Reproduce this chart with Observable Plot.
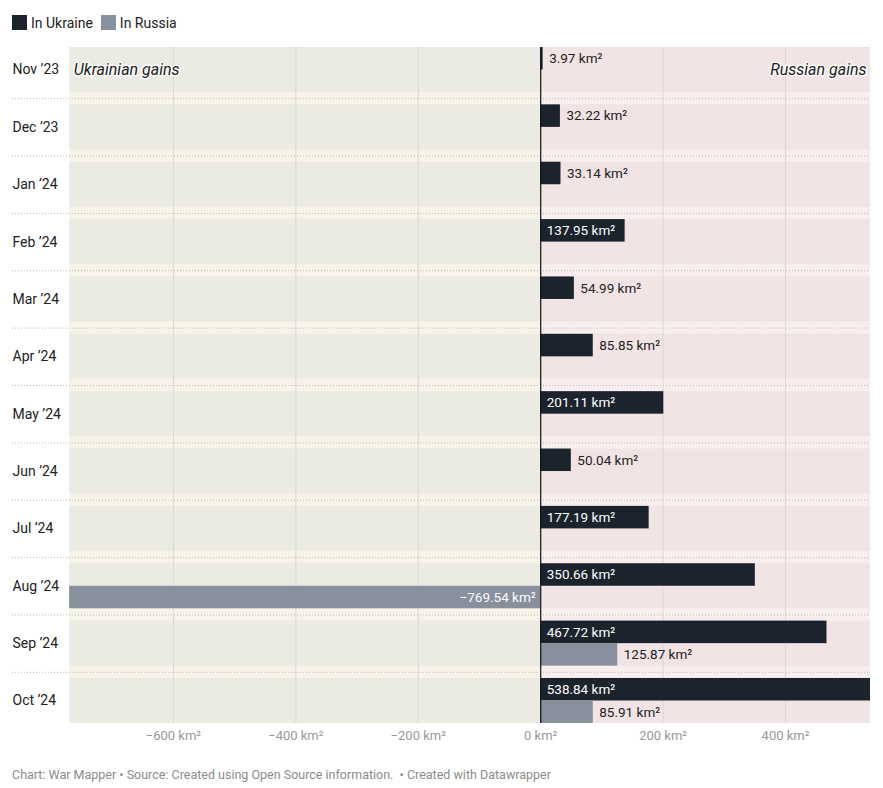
<!DOCTYPE html>
<html><head><meta charset="utf-8">
<script src="https://cdn.jsdelivr.net/npm/d3@7"></script>
<script src="https://cdn.jsdelivr.net/npm/@observablehq/plot@0.6"></script>
<style>
body{margin:0;background:#fff;font-family:Roboto,"Noto Sans",sans-serif;}
#legend{height:38px;box-sizing:border-box;padding:7px 0 0 12px;font-size:14px;color:#222;display:flex;align-items:center;}
#legend .item{display:inline-flex;align-items:center;margin-right:8px;}
#legend .sw{width:15px;height:15px;display:inline-block;margin-right:4px;}
#chart svg{display:block;}
#footer{box-sizing:border-box;padding:12px 0 0 12px;font-size:12.5px;color:#8c8c8c;line-height:15px;}
</style></head><body>
<div id="legend"></div>
<div id="chart"></div>
<div id="footer">Chart: War Mapper • Source: Created using Open Source information. &nbsp;• Created with Datawrapper</div>
<script>
const months = ["Nov ’23","Dec ’23","Jan ’24","Feb ’24","Mar ’24","Apr ’24","May ’24","Jun ’24","Jul ’24","Aug ’24","Sep ’24","Oct ’24"];
const inUkraine = [3.97, 32.22, 33.14, 137.95, 54.99, 85.85, 201.11, 50.04, 177.19, 350.66, 467.72, 538.84];
const inRussia = [null, null, null, null, null, null, null, null, null, -769.54, 125.87, 85.91];
const seriesNames = ["In Ukraine", "In Russia"];
const seriesColors = ["#1b232d", "#87909c"];
const tickValues = [-600, -400, -200, 0, 200, 400];
const gridValues = [-600, -400, -200, 200, 400];
const sideLabels = ["Ukrainian gains", "Russian gains"];

const xMin = d3.min(inRussia.filter(v => v != null));
const xMax = d3.max(inUkraine);
const fmt = v => (v < 0 ? "−" : "") + Math.abs(v).toFixed(2) + " km²";
const tickFmt = v => (v < 0 ? "−" : "") + Math.abs(v) + " km²";

// legend
const leg = document.getElementById("legend");
seriesNames.forEach((n, i) => {
  const it = document.createElement("span");
  it.className = "item";
  it.innerHTML = `<span class="sw" style="background:${seriesColors[i]}"></span>${n}`;
  leg.appendChild(it);
});

const rows = months.map((m, i) => ({month: m, ua: inUkraine[i], ru: inRussia[i]}));
const ruPos = rows.filter(d => d.ru != null && d.ru > 0);
const ruNeg = rows.filter(d => d.ru != null && d.ru < 0);
const ruRows = rows.filter(d => d.ru != null);

const padIn = 0.215;
const frameH = 676;
const step = frameH / (months.length - padIn);
const bw = step * (1 - padIn);
const half = bw / 2;
const gapHalf = step * padIn / 2 + 0.5;

const leftPanel = "#ebeae3", rightPanel = "#f2e4e4";
const leftGap = "#f6f4e9", rightGap = "#f8eeee";

const chart = Plot.plot({
  width: 883, height: 717,
  marginTop: 9, marginBottom: 32, marginLeft: 12, marginRight: 13,
  style: {fontFamily: "Roboto, 'Noto Sans', sans-serif", fontSize: "13px", background: "transparent", overflow: "visible"},
  x: {domain: [-863, xMax], axis: null},
  y: {domain: months, axis: null, paddingInner: padIn, paddingOuter: 0, round: false},
  marks: [
    // gap tints
    Plot.barX(months.slice(1), {y: d => d, x1: xMin, x2: 0, fill: leftGap, insetTop: -gapHalf}),
    Plot.barX(months.slice(0, -1), {y: d => d, x1: xMin, x2: 0, fill: leftGap, insetBottom: -gapHalf}),
    Plot.barX(months.slice(1), {y: d => d, x1: 0, x2: xMax, fill: rightGap, insetTop: -gapHalf}),
    Plot.barX(months.slice(0, -1), {y: d => d, x1: 0, x2: xMax, fill: rightGap, insetBottom: -gapHalf}),
    // panels
    Plot.barX(months, {y: d => d, x1: xMin, x2: 0, fill: leftPanel}),
    Plot.barX(months, {y: d => d, x1: 0, x2: xMax, fill: rightPanel}),
    // dotted separators
    Plot.ruleY(months.slice(0, -1), {y: d => d, dy: step / 2, stroke: "#b9b9b9", strokeDasharray: "1,2", strokeWidth: 1}),
    // gridlines
    Plot.ruleX(gridValues, {stroke: "#d9d9d6", strokeWidth: 1}),
    // bars
    Plot.barX(rows, {y: "month", x1: 0, x2: "ua", fill: seriesColors[0], insetBottom: half}),
    Plot.barX(ruRows, {y: "month", x1: 0, x2: "ru", fill: seriesColors[1], insetTop: half}),
    // zero line
    Plot.ruleX([0], {stroke: "#111", strokeWidth: 1.2}),
    // value labels Ukraine
    Plot.text(rows.filter(d => d.ua > 100), {y: "month", x: 0, text: d => fmt(d.ua), dx: 6, dy: -half / 2,
      textAnchor: "start", fill: "#fff", fontSize: 13.5}),
    Plot.text(rows.filter(d => d.ua <= 100), {y: "month", x: "ua", text: d => fmt(d.ua), dx: 6, dy: -half / 2,
      textAnchor: "start", fill: "#222", fontSize: 13.5}),
    // value labels Russia
    Plot.text(ruPos, {y: "month", x: "ru", text: d => fmt(d.ru), dx: 6, dy: half / 2,
      textAnchor: "start", fill: "#222", fontSize: 13.5}),
    Plot.text(ruNeg, {y: "month", x: 0, text: d => fmt(d.ru), dx: -5, dy: half / 2,
      textAnchor: "end", fill: "#fff", fontSize: 13.5}),
    // side labels
    Plot.text([sideLabels[0]], {x: xMin, y: [months[0]], text: d => d, dx: 4, textAnchor: "start",
      fontStyle: "italic", fontSize: 16, fill: "#222", stroke: "#fff", strokeWidth: 3, strokeOpacity: 0.85}),
    Plot.text([sideLabels[1]], {x: xMax, y: [months[0]], text: d => d, dx: -4, textAnchor: "end",
      fontStyle: "italic", fontSize: 16, fill: "#222", stroke: "#fff", strokeWidth: 3, strokeOpacity: 0.85}),
    // month labels
    Plot.text(months, {y: d => d, text: d => d, frameAnchor: "left", textAnchor: "start", fill: "#222", fontSize: 14}),
    // x tick labels
    Plot.text(tickValues, {x: d => d, text: tickFmt, frameAnchor: "bottom", dy: 16, fill: "#999", fontSize: 13})
  ]
});
document.getElementById("chart").appendChild(chart);
</script>
</body></html>
